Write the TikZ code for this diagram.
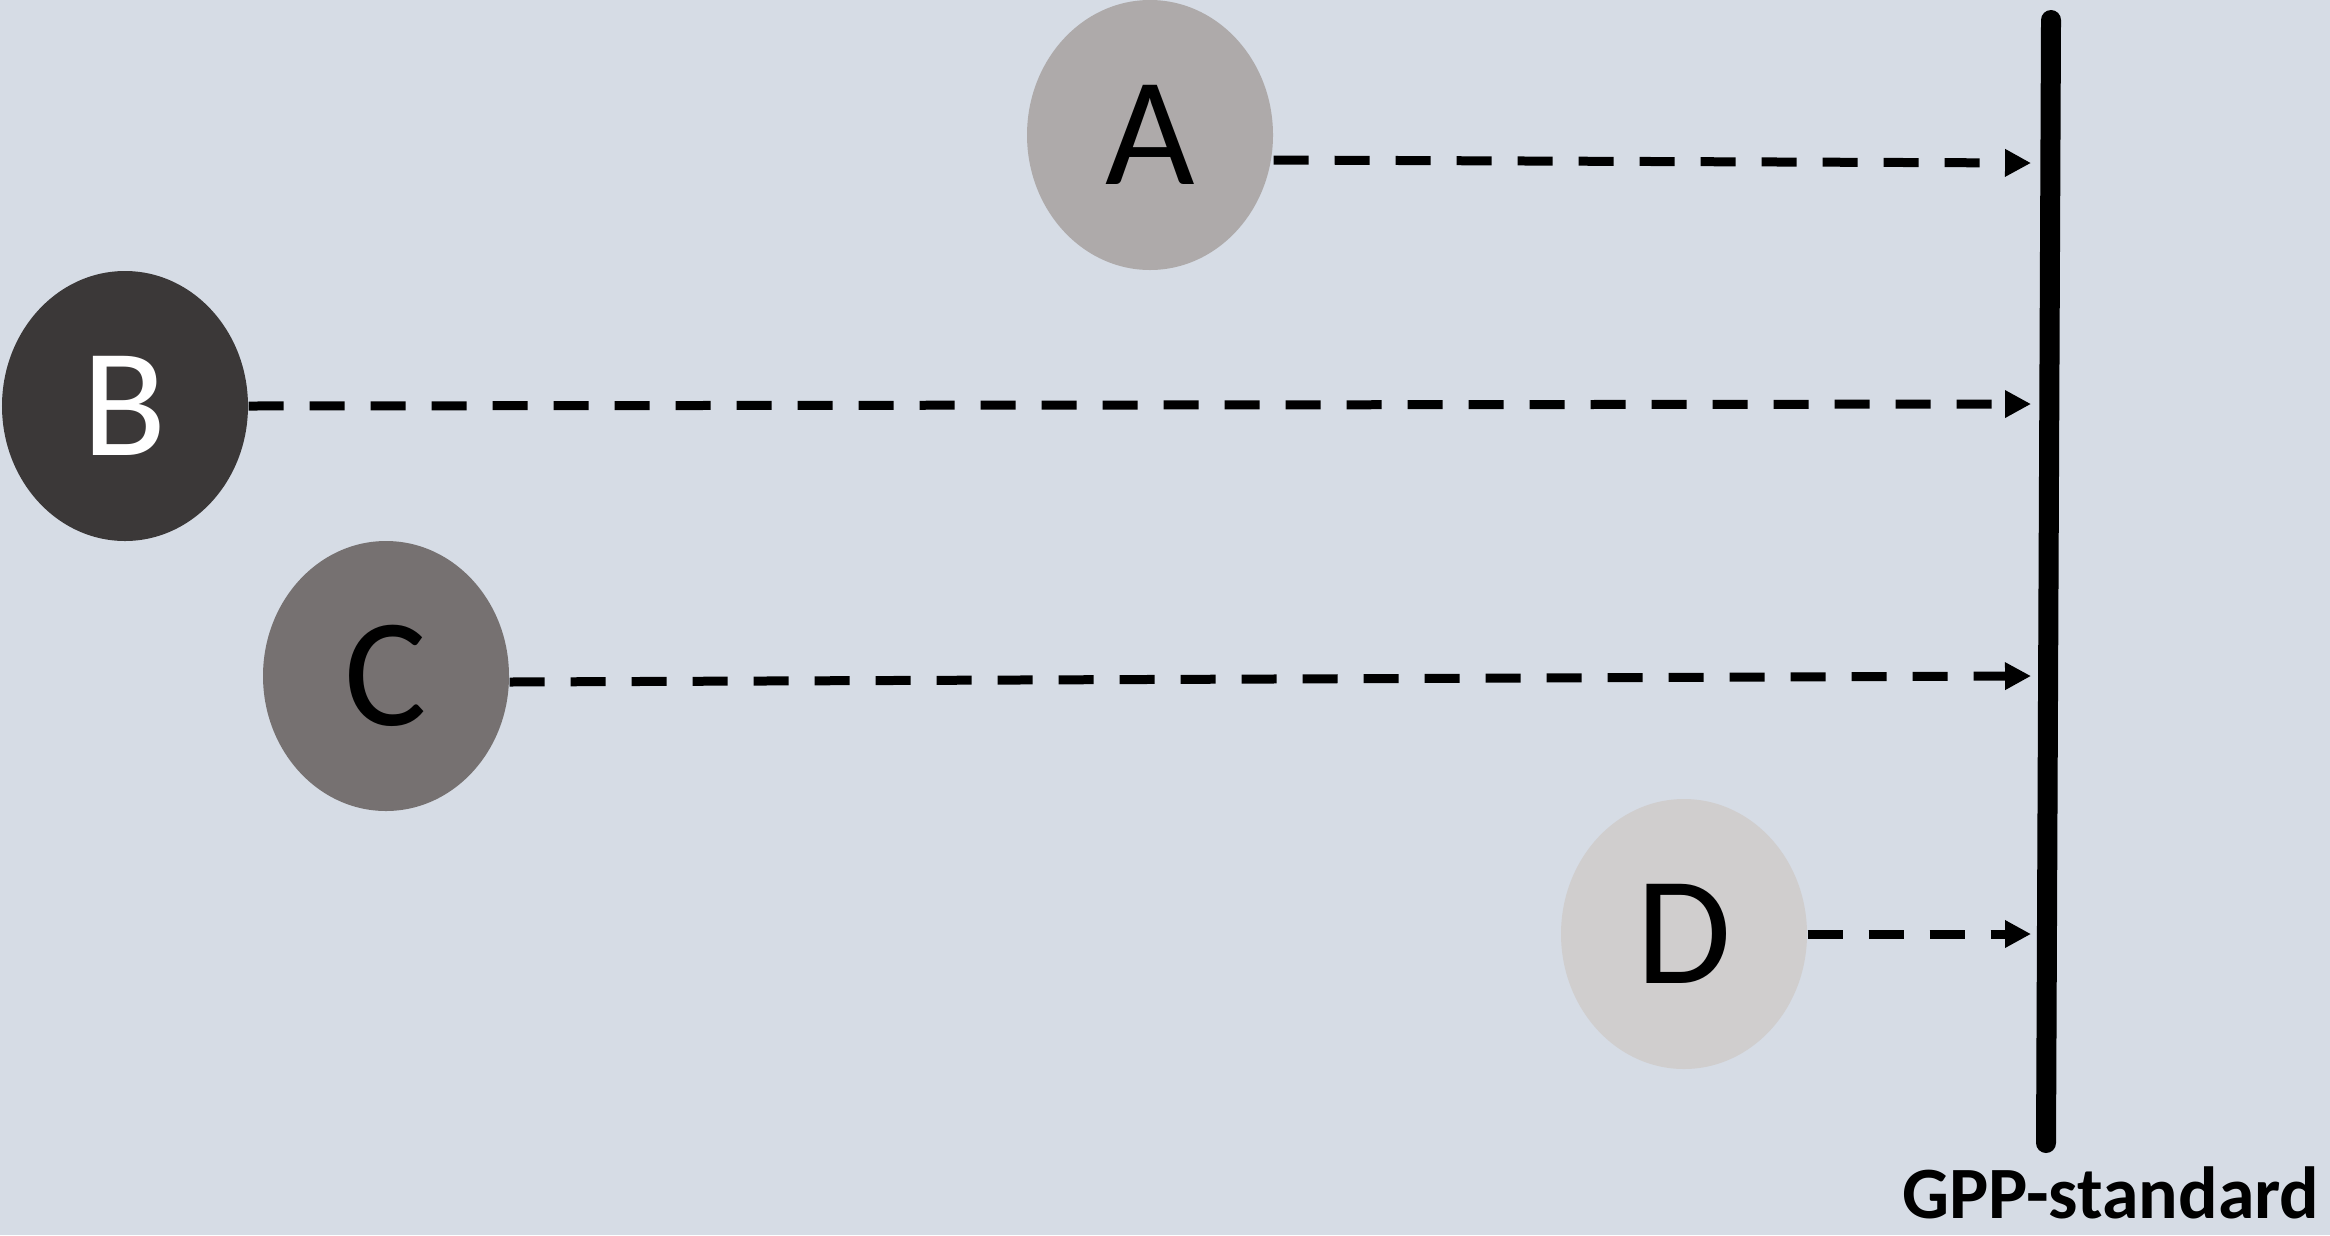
\documentclass[tikz,border=0pt]{standalone}
\usepackage{fontspec}
\setmainfont{Carlito}
\usepackage{xcolor}
\usetikzlibrary{positioning}
\usetikzlibrary{shapes.geometric}
\usetikzlibrary{arrows.meta}
\definecolor{bgblue}{HTML}{D6DCE5}
\definecolor{greyA}{HTML}{AEAAAA}
\definecolor{greyB}{HTML}{3B3838}
\definecolor{greyC}{HTML}{767171}
\definecolor{greyD}{HTML}{D0CECE}
\tikzset{
	blob/.style={ellipse, minimum width=2.46cm, minimum height=2.70cm, inner sep=0pt, font=\fontsize{44}{50}\selectfont},
	link/.style={black, line width=0.09cm, dash pattern=on 0.35cm off 0.26cm, -{Triangle[length=0.26cm, width=0.26cm]}}
}
\begin{document}
\begin{tikzpicture}
	\useasboundingbox (0, 0) rectangle (23.30, -12.35);
	\fill[bgblue] (0, 0) rectangle (23.30, -12.35);
	% the standard
	\coordinate (top) at (20.51, -0.20);
	\coordinate (bottom) at (20.46, -11.43);
	\draw[black, line width=0.2cm, line cap=round] (top)--(bottom);
	\node[anchor=base east, inner sep=0pt, font=\fontsize{21}{25}\selectfont\bfseries] (std) at (23.20, -12.18) {GPP-standard};
	% the four positions
	\node[blob, fill=greyA] (A) at (11.50, -1.35) {A};
	\node[blob, fill=greyB, text=white] (B) at (1.25, -4.06) {B};
	\node[blob, fill=greyC] (C) at (3.86, -6.76) {C};
	\node[blob, fill=greyD] (D) at (16.84, -9.34) {D};
	\coordinate (ta) at (20.31, -1.63);
	\coordinate (tb) at (20.31, -4.04);
	\coordinate (tc) at (20.31, -6.76);
	\coordinate (td) at (20.31, -9.34);
	\draw[link] ([yshift=-0.25cm]A.east)--(ta);
	\draw[link] (B.east)--(tb);
	\draw[link] ([yshift=-0.06cm]C.east)--(tc);
	\draw[link] (D.east)--(td);
\end{tikzpicture}
\end{document}
